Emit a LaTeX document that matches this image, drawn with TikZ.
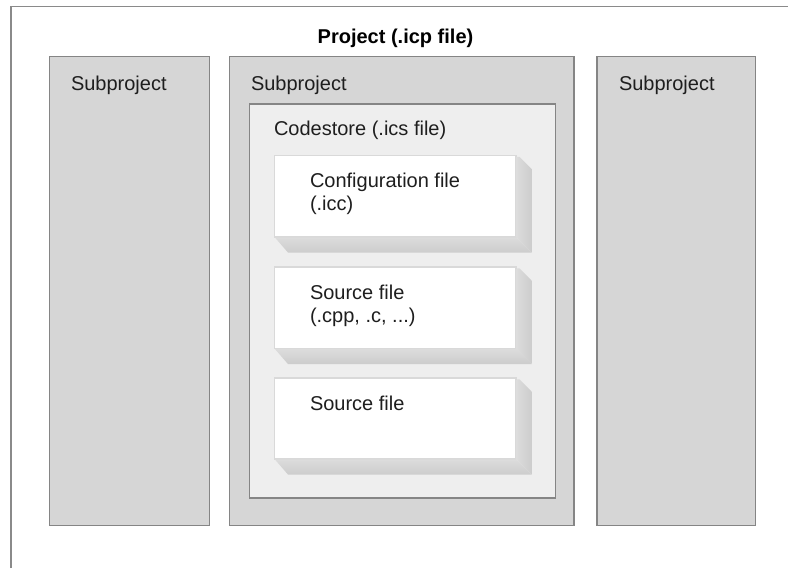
\documentclass[tikz,border=0pt]{standalone}
\usepackage{fontspec}
\setmainfont{Liberation Sans}
\usetikzlibrary{fit}
\definecolor{subfill}{HTML}{D6D6D6}
\definecolor{subline}{HTML}{858585}
\definecolor{csfill}{HTML}{EEEEEE}
\definecolor{fileline}{HTML}{D9D9D9}
\definecolor{txt}{HTML}{1E1E1E}
\definecolor{frameline}{HTML}{8A8A8A}
\definecolor{shA}{HTML}{DCDCDC}
\definecolor{shB}{HTML}{BEBEBE}
\definecolor{shC}{HTML}{CCCCCC}
\newcommand\fileshadow[1]{%
  \shade[left color=shA, middle color=shB, right color=shC]
    ([shift={(0,2)}]#1.north east) -- ([shift={(3,2)}]#1.north east)
    -- ([shift={(15,14)}]#1.north east) -- ([shift={(15,15)}]#1.south east)
    -- (#1.south east) -- cycle;
  \shade[top color=shA, middle color=shB, bottom color=shC]
    ([shift={(1,0)}]#1.south west) -- (#1.south east)
    -- ([shift={(15,15)}]#1.south east) -- ([shift={(14,15)}]#1.south west) -- cycle;
}
\begin{document}
\begin{tikzpicture}[x=0.75pt,y=-0.75pt,
  subbox/.style={inner sep=0pt, draw=subline, fill=subfill, line width=1.1pt},
  csbox/.style={inner sep=0pt, draw=subline, fill=csfill, line width=1.1pt},
  filebox/.style={inner sep=0pt, draw=fileline, fill=white, line width=0.8pt},
  lbl/.style={inner sep=0pt, outer sep=0pt, text=txt, anchor=north west, align=left,
    font=\fontsize{15}{17.25}\selectfont},
  ttl/.style={inner sep=0pt, text=black, font=\fontsize{15}{17.25}\selectfont\bfseries}]
\useasboundingbox (0,0) rectangle (788,568);
\fill[white] (0,0) rectangle (788,568);
% outer frame (cropped)
\draw[frameline, line width=1.3pt] (11,568) -- (11,6.5) -- (788,6.5);
\node[ttl] (title) at (395.5,38) {Project (.icp file)};
% subprojects
\node[subbox, fit={(49.5,56.5) (209.5,525.5)}] (sub1) {};
\node[subbox, fit={(229.5,56.5) (574,525.5)}] (sub2) {};
\node[subbox, fit={(597,56.5) (755.5,525.5)}] (sub3) {};
\node[lbl] (sub1l) at (71,76) {Subproject};
\node[lbl] (sub2l) at (251,76) {Subproject};
\node[lbl] (sub3l) at (619,76) {Subproject};
% codestore
\node[csbox, fit={(249.5,104) (555.5,498)}] (cs) {};
\node[lbl] (csl) at (274,121.5) {Codestore (.ics file)};
% files
\node[filebox, fit={(274.5,155.5) (516,237)}] (f1) {};
\node[filebox, fit={(274.5,267) (516,348.5)}] (f2) {};
\node[filebox, fit={(274.5,378) (516,459)}] (f3) {};
\fileshadow{f1}
\fileshadow{f2}
\fileshadow{f3}
\node[lbl] (f1l) at (310,173) {Configuration file\\(.icc)};
\node[lbl] (f2l) at (310,285) {Source file\\(.cpp, .c, ...)};
\node[lbl] (f3l) at (310,396) {Source file};
\end{tikzpicture}
\end{document}
